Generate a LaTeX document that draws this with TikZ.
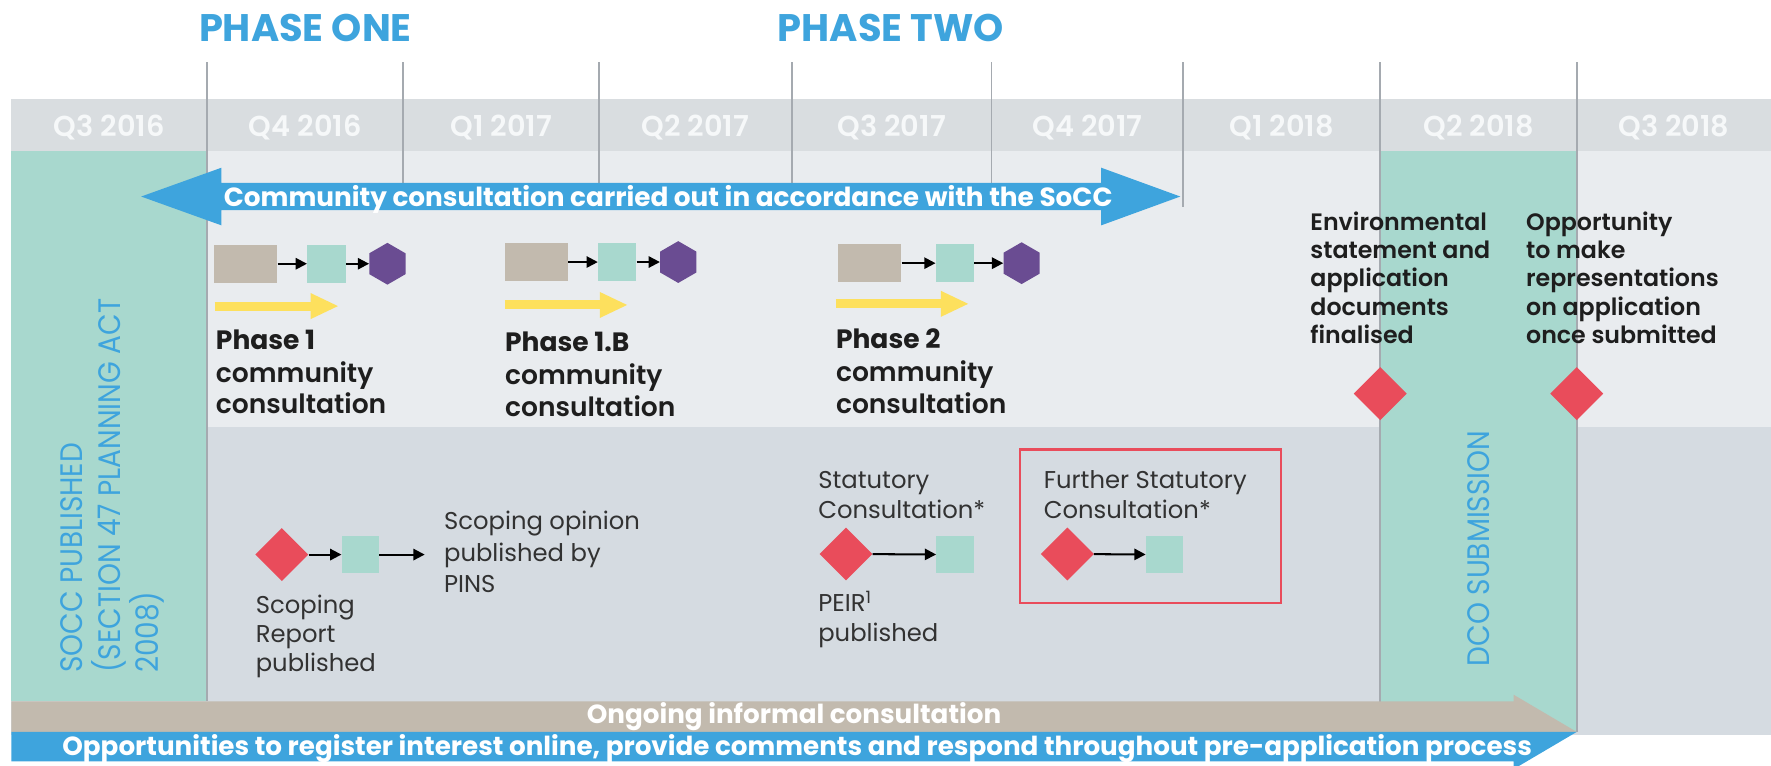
\documentclass[tikz,border=0pt]{standalone}
\usepackage{fontspec}
\setmainfont{Poppins}
\IfFontExistsTF{Poppins SemiBold}
  {\newfontfamily\medfont{Poppins SemiBold}}
  {\newfontfamily\medfont[FakeBold=2.5]{Poppins}}
\newfontfamily\narrowfont[FakeStretch=0.9]{Poppins}
\usetikzlibrary{arrows.meta,shapes.geometric}

\definecolor{skyblue}{RGB}{62,164,221}
\definecolor{tealbg}{RGB}{168,216,206}
\definecolor{headgray}{RGB}{217,221,224}
\definecolor{uppergray}{RGB}{233,236,239}
\definecolor{lowergray}{RGB}{213,219,225}
\definecolor{sandtan}{RGB}{194,186,174}
\definecolor{plum}{RGB}{106,76,146}
\definecolor{sun}{RGB}{253,224,93}
\definecolor{coral}{RGB}{233,76,91}
\definecolor{rulegray}{RGB}{165,170,176}
\definecolor{ink}{RGB}{30,30,30}
\definecolor{softink}{RGB}{50,50,50}
\definecolor{paleink}{RGB}{246,248,249}

\tikzset{
  phasehead/.style={anchor=base west, inner sep=0pt, text=skyblue, font=\bfseries\fontsize{34}{34}\selectfont},
  qlabel/.style={anchor=base, inner sep=0pt, text=paleink, font=\medfont\fontsize{25.5}{25.5}\selectfont},
  bandtext/.style={anchor=base west, inner sep=0pt, text=white, font=\bfseries\fontsize{23.3}{23.3}\selectfont},
  steptitle/.style={anchor=base west, inner sep=0pt, text=ink, font=\bfseries\fontsize{23.5}{23.5}\selectfont},
  stepline/.style={anchor=base west, inner sep=0pt, text=ink, font=\medfont\fontsize{23.5}{23.5}\selectfont},
  sideline/.style={anchor=base west, inner sep=0pt, text=ink, font=\medfont\fontsize{21}{21}\selectfont},
  lowline/.style={anchor=base west, inner sep=0pt, text=softink, font=\fontsize{21.5}{21.5}\selectfont},
  vertlabel/.style={anchor=base west, inner sep=0pt, rotate=90, text=skyblue, font=\narrowfont\fontsize{27.5}{27.5}\selectfont},
  tanbox/.style={fill=sandtan, minimum width=56pt, minimum height=34pt, inner sep=0pt},
  tealbox/.style={fill=tealbg, minimum width=34pt, minimum height=34pt, inner sep=0pt},
  tealsq/.style={fill=tealbg, minimum width=33pt, minimum height=33pt, inner sep=0pt},
  hexa/.style={regular polygon, regular polygon sides=6, shape border rotate=30, fill=plum, minimum size=37pt, inner sep=0pt},
  gem/.style={diamond, fill=coral, minimum width=47pt, minimum height=47pt, inner sep=0pt},
  link/.style={draw=black, line width=1.8pt, -{Triangle[length=10pt,width=10pt]}},
  sunarrow/.style={draw=sun, line width=8pt, -{Triangle[length=25pt,width=21pt]}},
  quarterrule/.style={draw=rulegray, line width=1.4pt}
}

\begin{document}
\begin{tikzpicture}[x=1pt,y=-1pt]
\useasboundingbox (0,0) rectangle (1568,678);

% background bands
\fill[headgray] (10,88) rectangle (1568,134);
\fill[uppergray] (10,134) rectangle (1568,378);
\fill[lowergray] (10,378) rectangle (1568,651);
\fill[tealbg] (10,134) rectangle (183.5,621);
\fill[tealbg] (1222,134) rectangle (1396,648);

% quarter dividers
\foreach \x/\yb in {183.5/621, 357/172, 530.5/172, 701/172, 878/172, 1047.5/183, 1222/648, 1396/648}
  \draw[quarterrule] (\x,55) -- (\x,\yb);

% phase headings
\node[phasehead] (phaseone) at (176,37) {PHASE ONE};
\node[phasehead] (phasetwo) at (688.5,37) {PHASE TWO};

% quarter labels
\node[qlabel] (q1) at (96.75,121) {Q3 2016};
\node[qlabel] (q2) at (270.25,121) {Q4 2016};
\node[qlabel] (q3) at (443.75,121) {Q1 2017};
\node[qlabel] (q4) at (615.75,121) {Q2 2017};
\node[qlabel] (q5) at (789.5,121) {Q3 2017};
\node[qlabel] (q6) at (962.75,121) {Q4 2017};
\node[qlabel] (q7) at (1134.75,121) {Q1 2018};
\node[qlabel] (q8) at (1309,121) {Q2 2018};
\node[qlabel] (q9) at (1482,121) {Q3 2018};

% community consultation double arrow
\fill[skyblue] (125,174) -- (196,148.5) -- (196,162) -- (975,162) -- (975,148.5)
  -- (1045,174) -- (975,199.5) -- (975,186) -- (196,186) -- (196,199.5) -- cycle;
\node[bandtext] (soccband) at (198,182.5) {Community consultation carried out in accordance with the SoCC};

% phase 1 community consultation
\node[tanbox] (ga1) at (217.5,233.5) {};
\node[tealbox] (gb1) at (289,233.5) {};
\node[hexa] (gc1) at (343,233.5) {};
\draw[link] (ga1) -- (gb1);
\draw[link] (gb1) -- (gc1);
\coordinate (ys1) at (190,271);
\coordinate (ye1) at (300,271);
\draw[sunarrow] (ys1) -- (ye1);
\node[steptitle] (t1a) at (191,309) {Phase 1};
\node[stepline] (t1b) at (191,338.5) {community};
\node[stepline] (t1c) at (191,366.5) {consultation};

% phase 1.B community consultation
\node[tanbox] (ga2) at (475,232) {};
\node[tealbox] (gb2) at (546.5,232) {};
\node[hexa] (gc2) at (600.5,232) {};
\draw[link] (ga2) -- (gb2);
\draw[link] (gb2) -- (gc2);
\coordinate (ys2) at (447,270);
\coordinate (ye2) at (556,270);
\draw[sunarrow] (ys2) -- (ye2);
\node[steptitle] (t2a) at (447,311) {Phase 1.B};
\node[stepline] (t2b) at (447,340) {community};
\node[stepline] (t2c) at (447,369) {consultation};

% phase 2 community consultation
\node[tanbox] (ga3) at (770,233) {};
\node[tealbox] (gb3) at (845.5,233) {};
\node[hexa] (gc3) at (904.5,233) {};
\draw[link] (ga3) -- (gb3);
\draw[link] (gb3) -- (gc3);
\coordinate (ys3) at (740,269);
\coordinate (ye3) at (858,269);
\draw[sunarrow] (ys3) -- (ye3);
\node[steptitle] (t3a) at (740,308.5) {Phase 2};
\node[stepline] (t3b) at (740,338) {community};
\node[stepline] (t3c) at (740,366) {consultation};

% milestones around DCO submission
\node[sideline] (e1) at (1160,204) {Environmental};
\node[sideline] (e2) at (1160,229) {statement and};
\node[sideline] (e3) at (1160,254) {application};
\node[sideline] (e4) at (1160,279) {documents};
\node[sideline] (e5) at (1160,304.5) {finalised};
\node[sideline] (o1) at (1351,204) {Opportunity};
\node[sideline] (o2) at (1351,229) {to make};
\node[sideline] (o3) at (1351,254) {representations};
\node[sideline] (o4) at (1351,279) {on application};
\node[sideline] (o5) at (1351,304.5) {once submitted};
\node[gem] (gemfinal) at (1222,348.5) {};
\node[gem] (gemrep) at (1396,348.5) {};

% scoping
\node[gem] (scopegem) at (249.5,491) {};
\node[tealsq] (scopesq) at (319,491) {};
\coordinate (scopeend) at (376,491);
\draw[link] (scopegem) -- (scopesq);
\draw[link] (scopesq) -- (scopeend);
\node[lowline] (so1) at (393,469) {Scoping opinion};
\node[lowline] (so2) at (393,497) {published by};
\node[lowline] (so3) at (393,524.5) {PINS};
\node[lowline] (sr1) at (226.3,543) {Scoping};
\node[lowline] (sr2) at (226.3,568.5) {Report};
\node[lowline] (sr3) at (226.3,594.5) {published};

% statutory consultation
\node[lowline] (st1) at (724.3,432.3) {Statutory};
\node[lowline] (st2) at (724.3,459) {Consultation*};
\node[gem] (statgem) at (749,490.5) {};
\node[tealsq] (statsq) at (845.5,491) {};
\draw[link] (statgem) -- (statsq);
\node[lowline] (pe1) at (724.3,541.5) {PEIR\textsuperscript{1}};
\node[lowline] (pe2) at (724.3,568) {published};

% further statutory consultation
\node[draw=coral, line width=2.2pt, anchor=north west, minimum width=231pt, minimum height=135.7pt, inner sep=0pt] (furtherbox) at (902,397) {};
\node[lowline] (fs1) at (924,432.3) {Further Statutory};
\node[lowline] (fs2) at (924,459) {Consultation*};
\node[gem] (furgem) at (945,490.5) {};
\node[tealsq] (fursq) at (1031,491) {};
\draw[link] (furgem) -- (fursq);

% vertical captions
\node[vertlabel] (dco) at (1319,590) {DCO SUBMISSION};
\node[vertlabel] (sv1) at (73,596) {SOCC PUBLISHED};
\node[vertlabel] (sv2) at (106.5,596) {(SECTION 47 PLANNING ACT};
\node[vertlabel] (sv3) at (140,596) {2008)};

% ongoing consultation arrow (split in two colours)
\fill[sandtan] (10,621) -- (1340,621) -- (1340,615) -- (1396,648) -- (10,648) -- cycle;
\fill[skyblue] (10,648) -- (1396,648) -- (1340,681) -- (1340,674) -- (10,674) -- cycle;
\node[anchor=base, inner sep=0pt, text=white, font=\bfseries\fontsize{23.2}{23.2}\selectfont] (ongoing) at (703,641) {Ongoing informal consultation};
\node[anchor=base west, inner sep=0pt, text=white, font=\bfseries\fontsize{23.2}{23.2}\selectfont] (online) at (55,669.3) {Opportunities to register interest online, provide comments and respond throughout pre-application process};
\end{tikzpicture}
\end{document}
